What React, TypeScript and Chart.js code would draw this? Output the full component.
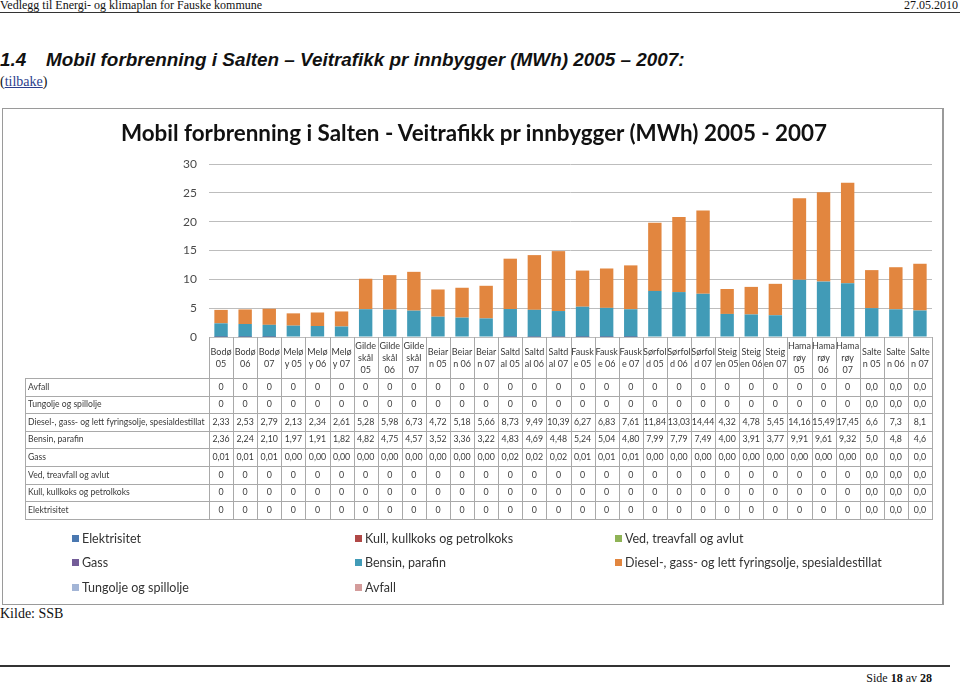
import React, { useEffect, useRef } from "react";
import { Chart, registerables } from "chart.js";

Chart.register(...registerables);

const chartTitle = "Mobil forbrenning i Salten - Veitrafikk pr innbygger (MWh) 2005 - 2007";

const categories: string[][] = [
  ["Bodø", "05"], ["Bodø", "06"], ["Bodø", "07"],
  ["Melø", "y 05"], ["Melø", "y 06"], ["Melø", "y 07"],
  ["Gilde", "skål", "05"], ["Gilde", "skål", "06"], ["Gilde", "skål", "07"],
  ["Beiar", "n 05"], ["Beiar", "n 06"], ["Beiar", "n 07"],
  ["Saltd", "al 05"], ["Saltd", "al 06"], ["Saltd", "al 07"],
  ["Fausk", "e 05"], ["Fausk", "e 06"], ["Fausk", "e 07"],
  ["Sørfol", "d 05"], ["Sørfol", "d 06"], ["Sørfol", "d 07"],
  ["Steig", "en 05"], ["Steig", "en 06"], ["Steig", "en 07"],
  ["Hama", "røy", "05"], ["Hama", "røy", "06"], ["Hama", "røy", "07"],
  ["Salte", "n 05"], ["Salte", "n 06"], ["Salte", "n 07"],
];

// decimals shown in the data table per column
const columnDecimals = [2, 2, 2, 2, 2, 2, 2, 2, 2, 2, 2, 2, 2, 2, 2, 2, 2, 2, 2, 2, 2, 2, 2, 2, 2, 2, 2, 1, 1, 1];

const elektrisitet = [0, 0, 0, 0, 0, 0, 0, 0, 0, 0, 0, 0, 0, 0, 0, 0, 0, 0, 0, 0, 0, 0, 0, 0, 0, 0, 0, 0, 0, 0];
const kull = [0, 0, 0, 0, 0, 0, 0, 0, 0, 0, 0, 0, 0, 0, 0, 0, 0, 0, 0, 0, 0, 0, 0, 0, 0, 0, 0, 0, 0, 0];
const ved = [0, 0, 0, 0, 0, 0, 0, 0, 0, 0, 0, 0, 0, 0, 0, 0, 0, 0, 0, 0, 0, 0, 0, 0, 0, 0, 0, 0, 0, 0];
const gass = [0.01, 0.01, 0.01, 0, 0, 0, 0, 0, 0, 0, 0, 0, 0.02, 0.02, 0.02, 0.01, 0.01, 0.01, 0, 0, 0, 0, 0, 0, 0, 0, 0, 0, 0, 0];
const bensin = [2.36, 2.24, 2.10, 1.97, 1.91, 1.82, 4.82, 4.75, 4.57, 3.52, 3.36, 3.22, 4.83, 4.69, 4.48, 5.24, 5.04, 4.80, 7.99, 7.79, 7.49, 4.00, 3.91, 3.77, 9.91, 9.61, 9.32, 5.0, 4.8, 4.6];
const diesel = [2.33, 2.53, 2.79, 2.13, 2.34, 2.61, 5.28, 5.98, 6.73, 4.72, 5.18, 5.66, 8.73, 9.49, 10.39, 6.27, 6.83, 7.61, 11.84, 13.03, 14.44, 4.32, 4.78, 5.45, 14.16, 15.49, 17.45, 6.6, 7.3, 8.1];
const tungolje = [0, 0, 0, 0, 0, 0, 0, 0, 0, 0, 0, 0, 0, 0, 0, 0, 0, 0, 0, 0, 0, 0, 0, 0, 0, 0, 0, 0, 0, 0];
const avfall = [0, 0, 0, 0, 0, 0, 0, 0, 0, 0, 0, 0, 0, 0, 0, 0, 0, 0, 0, 0, 0, 0, 0, 0, 0, 0, 0, 0, 0, 0];

type Series = { name: string; data: number[]; color: string; intZeros: boolean };

// stacking order, bottom first (also legend order)
const series: Series[] = [
  { name: "Elektrisitet", data: elektrisitet, color: "#4A78B0", intZeros: true },
  { name: "Kull, kullkoks og petrolkoks", data: kull, color: "#B04846", intZeros: true },
  { name: "Ved, treavfall og avlut", data: ved, color: "#8FB356", intZeros: true },
  { name: "Gass", data: gass, color: "#735C98", intZeros: false },
  { name: "Bensin, parafin", data: bensin, color: "#419BB7", intZeros: false },
  { name: "Diesel-, gass- og lett fyringsolje, spesialdestillat", data: diesel, color: "#E2863F", intZeros: false },
  { name: "Tungolje og spillolje", data: tungolje, color: "#A3B5D6", intZeros: true },
  { name: "Avfall", data: avfall, color: "#D49C9B", intZeros: true },
];

const yTicksMax = 30;
const yTicksStep = 5;

const FONT = "Lato, 'Open Sans', sans-serif";

function fmt(v: number, dec: number, intZeros: boolean): string {
  if (intZeros && v === 0 && dec === 2) return "0";
  return v.toFixed(dec).replace(".", ",");
}

const tablePlugin = {
  id: "dataTable",
  afterDraw(chart: any) {
    const { ctx, chartArea } = chart;
    const n = categories.length;
    const colW = chartArea.width / n;
    const top = Math.round(chartArea.bottom);
    const headerH = 41;
    const rowH = 17.6;
    const tableLeft = 22;
    const rows = series.slice().reverse();
    const tableBottom = top + headerH + rows.length * rowH;
    ctx.save();
    ctx.strokeStyle = "#A9A9A9";
    ctx.lineWidth = 1;
    ctx.beginPath();
    for (let i = 0; i <= n; i++) {
      const xx = Math.round(chartArea.left + i * colW) + 0.5;
      ctx.moveTo(xx, top);
      ctx.lineTo(xx, Math.round(tableBottom));
    }
    const lx = tableLeft + 0.5;
    ctx.moveTo(lx, top + headerH);
    ctx.lineTo(lx, Math.round(tableBottom));
    for (let r = 0; r <= rows.length; r++) {
      const yy = Math.round(top + headerH + r * rowH) + 0.5;
      ctx.moveTo(tableLeft, yy);
      ctx.lineTo(Math.round(chartArea.right) + 1, yy);
    }
    ctx.stroke();

    ctx.fillStyle = "#3A3A3A";
    ctx.textAlign = "center";
    ctx.textBaseline = "middle";
    ctx.font = `9px ${FONT}`;
    const lineH = 11.8;
    for (let i = 0; i < n; i++) {
      const cx = chartArea.left + (i + 0.5) * colW;
      const lines = categories[i];
      const cy = top + headerH / 2 + 0.5;
      const start = cy - ((lines.length - 1) * lineH) / 2;
      lines.forEach((t, k) => ctx.fillText(t, cx, start + k * lineH));
    }
    rows.forEach((s, r) => {
      const cy = top + headerH + (r + 0.5) * rowH;
      ctx.textAlign = "left";
      ctx.font = `8.6px ${FONT}`;
      ctx.fillText(s.name, tableLeft + 3, cy);
      ctx.textAlign = "center";
      ctx.font = `8.8px ${FONT}`;
      for (let i = 0; i < n; i++) {
        const cx = chartArea.left + (i + 0.5) * colW;
        ctx.fillText(fmt(s.data[i], columnDecimals[i], s.intZeros), cx, cy);
      }
    });
    ctx.restore();
  },
};

function ChartBox() {
  const ref = useRef<HTMLCanvasElement | null>(null);
  useEffect(() => {
    if (!ref.current) return;
    const chart = new Chart(ref.current, {
      type: "bar",
      data: {
        labels: categories,
        datasets: series.map((s) => ({
          label: s.name,
          data: s.data,
          backgroundColor: s.color,
          borderWidth: 0,
          barPercentage: 0.556,
          categoryPercentage: 1,
        })),
      },
      options: {
        animation: false,
        responsive: false,
        layout: { padding: { top: 55, right: 13, bottom: 267, left: 0 } },
        plugins: {
          legend: { display: false },
          title: { display: false },
          tooltip: { enabled: false },
        },
        scales: {
          x: { stacked: true, display: false },
          y: {
            stacked: true,
            min: 0,
            max: yTicksMax,
            ticks: {
              stepSize: yTicksStep,
              color: "#4A4A4A",
              font: { family: FONT, size: 12 },
              padding: 12,
            },
            grid: { color: "#BDBDBD", drawTicks: false },
            border: { display: false },
            afterFit: (s: any) => {
              s.width = 206;
            },
          },
        },
      },
      plugins: [tablePlugin],
    } as any);
    return () => chart.destroy();
  }, []);
  return (
    <canvas
      ref={ref}
      width={942}
      height={495}
      style={{ position: "absolute", left: 3, top: 109, width: 942, height: 495 }}
    />
  );
}

const legendCols = [72, 355, 615];
const legendRows = [538, 562, 587];

export default function App() {
  const serif = "'Liberation Serif', 'Times New Roman', serif";
  return (
    <div
      style={{
        position: "fixed",
        left: 0,
        top: 0,
        width: 960,
        height: 684,
        background: "#fff",
        overflow: "hidden",
        fontFamily: serif,
        color: "#111",
      }}
    >
      <div style={{ position: "absolute", left: 0, top: -1, fontSize: 12, lineHeight: "13px", whiteSpace: "nowrap" }}>
        Vedlegg til Energi- og klimaplan for Fauske kommune
      </div>
      <div style={{ position: "absolute", right: 2, top: -1, fontSize: 12, lineHeight: "13px" }}>27.05.2010</div>
      <div style={{ position: "absolute", left: 0, top: 12, width: 960, height: 1, background: "#333" }} />

      <div
        style={{
          position: "absolute",
          left: 0,
          top: 48,
          fontFamily: "'Liberation Sans', Arial, sans-serif",
          fontWeight: "bold",
          fontStyle: "italic",
          fontSize: 18.9,
          lineHeight: "23px",
          whiteSpace: "nowrap",
        }}
      >
        <span>1.4</span>
        <span style={{ position: "absolute", left: 46 }}>
          Mobil forbrenning i Salten – Veitrafikk pr innbygger (MWh) 2005 – 2007:
        </span>
      </div>
      <div style={{ position: "absolute", left: 0, top: 74, fontSize: 14, lineHeight: "16px" }}>
        (<span style={{ color: "#2B3E8C", textDecoration: "underline" }}>tilbake</span>)
      </div>

      <div
        style={{
          position: "absolute",
          left: 2,
          top: 108,
          width: 942,
          height: 497,
          boxSizing: "border-box",
          borderTop: "1px solid #9A9A9A",
          borderLeft: "1px solid #9A9A9A",
          borderBottom: "1px solid #9A9A9A",
          borderRight: "2px solid #9A9A9A",
        }}
      />
      <ChartBox />
      <div
        style={{
          position: "absolute",
          left: 2,
          width: 944,
          top: 119,
          textAlign: "center",
          fontFamily: FONT,
          fontWeight: "bold",
          fontSize: 22.4,
          lineHeight: "28px",
          color: "#111",
          whiteSpace: "nowrap",
        }}
      >
        {chartTitle}
      </div>

      {series.map((s, i) => {
        const col = i % 3;
        const row = Math.floor(i / 3);
        return (
          <div
            key={s.name}
            style={{
              position: "absolute",
              left: legendCols[col],
              top: legendRows[row] - 9,
              height: 18,
              display: "flex",
              alignItems: "center",
              fontFamily: FONT,
              fontSize: 12.5,
              color: "#333",
              whiteSpace: "nowrap",
            }}
          >
            <span style={{ display: "inline-block", width: 7, height: 7, background: s.color, marginRight: 3 }} />
            {s.name}
          </div>
        );
      })}

      <div style={{ position: "absolute", left: 0, top: 606, fontSize: 14, lineHeight: "16px" }}>Kilde: SSB</div>

      <div style={{ position: "absolute", left: 0, top: 665, width: 950, height: 2, background: "#333" }} />
      <div style={{ position: "absolute", right: 28, top: 671, fontSize: 12, lineHeight: "14px" }}>
        Side <b>18</b> av <b>28</b>
      </div>
    </div>
  );
}
